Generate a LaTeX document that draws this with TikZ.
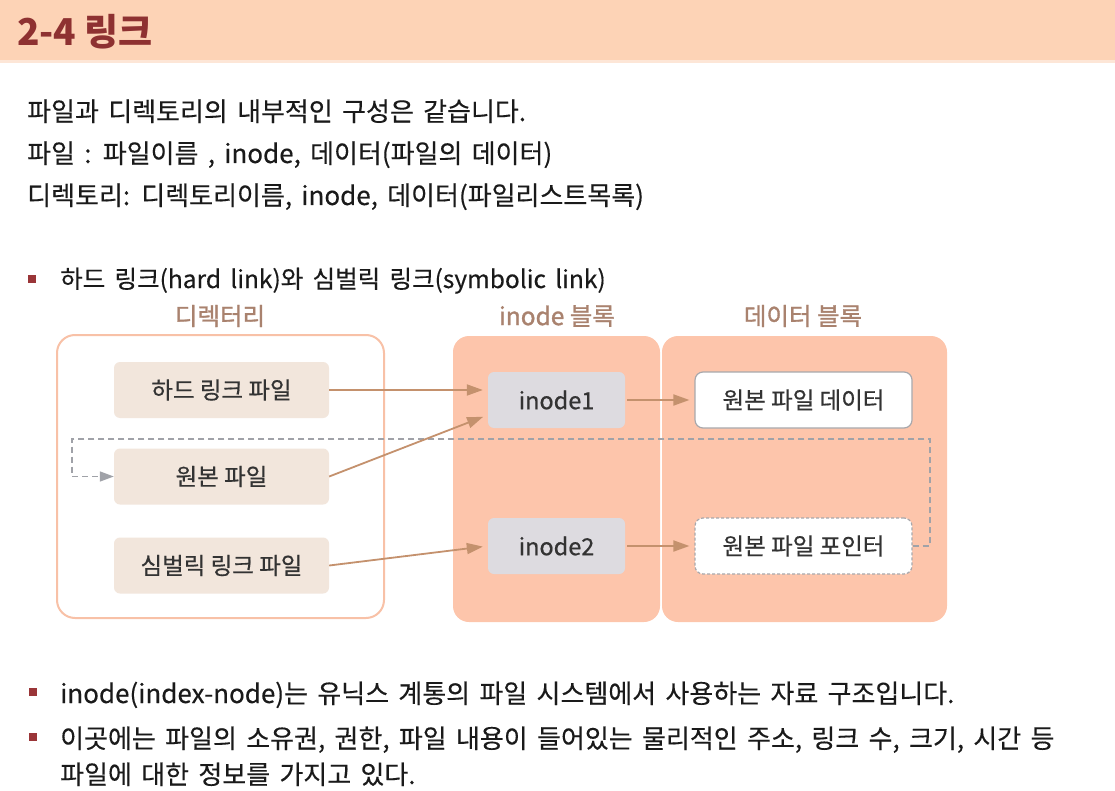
\documentclass[tikz,border=0pt]{standalone}
\usepackage{fontspec}
\setmainfont{Noto Sans CJK KR}
\usetikzlibrary{positioning,arrows.meta}
\definecolor{titlebg}{HTML}{FDD3B6}
\definecolor{titleline}{HTML}{FDE6D7}
\definecolor{titlered}{HTML}{8E3131}
\definecolor{bulletred}{HTML}{9A3538}
\definecolor{bodyblack}{HTML}{1A1A1A}
\definecolor{headbrown}{HTML}{A9826E}
\definecolor{dirline}{HTML}{F8C1A7}
\definecolor{blockfill}{HTML}{FDC5AB}
\definecolor{filebeige}{HTML}{F2E6DC}
\definecolor{inodegray}{HTML}{DDDBE0}
\definecolor{boxgray}{HTML}{A8A8AC}
\definecolor{boxtext}{HTML}{333333}
\definecolor{arrowbrown}{HTML}{C4916D}
\definecolor{dashgray}{HTML}{A0A2A8}
\newcommand{\bodyfont}[1]{\fontsize{#1}{#1}\selectfont\addfontfeature{FakeBold=0.3}\spaceskip=9.3pt plus 1pt}
\newcommand{\boxfont}{\fontsize{23.5}{26}\selectfont\addfontfeature{FakeBold=0.6}}

\begin{document}
\begin{tikzpicture}[
    x=1pt,
    y=-1pt,
    bodytext/.style={anchor=base west,inner sep=0pt,text=bodyblack,font=\bodyfont{26}},
    bulletsq/.style={fill=bulletred,minimum size=8pt,inner sep=0pt},
    heading/.style={text=headbrown,font=\fontsize{24.5}{28}\selectfont\addfontfeature{FakeBold=1.2}},
    dirframe/.style={draw=dirline,line width=2pt,fill=white,rounded corners=18pt,minimum width=327pt,minimum height=283pt},
    block/.style={fill=blockfill,rounded corners=16pt,minimum height=286pt},
    filebox/.style={fill=filebeige,rounded corners=6pt,minimum width=215pt,minimum height=56pt,text=boxtext,font=\boxfont},
    inodebox/.style={fill=inodegray,rounded corners=6pt,minimum width=137pt,minimum height=56pt,text=boxtext,font=\boxfont},
    databox/.style={fill=white,draw=boxgray,line width=1.2pt,rounded corners=8pt,minimum width=217pt,minimum height=56pt,text=boxtext,font=\boxfont},
    link/.style={draw=arrowbrown,line width=1.8pt,-{Triangle[length=16pt,width=11pt]}},
    softlink/.style={draw=dashgray,line width=1.6pt,dash pattern=on 6pt off 4pt,-{Triangle[length=14pt,width=10pt]}}
    ]
    \useasboundingbox (0,0) rectangle (1115,791);

    % title bar
    \fill[titlebg] (0,0) rectangle (1115,60);
    \fill[titleline] (0,60) rectangle (1115,63);
    \node[anchor=west,inner sep=0pt,text=titlered,font=\fontsize{37}{40}\selectfont\bfseries] (title) at (17,32) {2-4 링크};

    % intro lines
    \node[bodytext] (line1) at (27,121) {파일과 디렉토리의 내부적인 구성은 같습니다.};
    \node[bodytext] (line2) at (27,163) {파일 : 파일이름 , inode, 데이터(파일의 데이터)};
    \node[bodytext] (line3) at (27,205) {디렉토리: 디렉토리이름, inode, 데이터(파일리스트목록)};

    \node[bulletsq] (b1) at (32,279) {};
    \node[bodytext,font=\bodyfont{24.5}] (item1) at (60,288) {하드 링크(hard link)와 심벌릭 링크(symbolic link)};

    % diagram
    \node[dirframe] (dir) at (220.5,476.5) {};
    \node[block,minimum width=207pt] (iblock) at (556.5,479) {};
    \node[block,minimum width=285pt] (dblock) at (804.5,479) {};

    \node[heading] (dirhead) at (220,316) {디렉터리};
    \node[heading] (ihead) at (557,316) {inode 블록};
    \node[heading] (dhead) at (803,316) {데이터 블록};

    \node[filebox] (hard) at (221.5,390) {하드 링크 파일};
    \node[filebox] (orig) at (221.5,476.5) {원본 파일};
    \node[filebox] (sym) at (221.5,565.5) {심벌릭 링크 파일};

    \node[inodebox] (inode1) at (556.5,400) {inode1};
    \node[inodebox] (inode2) at (556.5,546) {inode2};

    \node[databox] (data) at (803.5,400) {원본 파일 데이터};
    \node[databox,dash pattern=on 3pt off 2pt] (ptr) at (803.5,546) {원본 파일 포인터};

    \coordinate (loopR) at (930,439);
    \coordinate (loopL) at (72,439);

    \draw[softlink] (ptr.east) -| (loopR) -- (loopL) |- (orig.west);
    \draw[link,shorten >=5pt] (hard.east) -- ([yshift=10pt]inode1.west);
    \draw[link,shorten >=5pt] (orig.east) -- ([yshift=-15pt]inode1.west);
    \draw[link,shorten >=5pt] (sym.east) -- (inode2.west);
    \draw[link,shorten >=5pt,shorten <=2pt] (inode1.east) -- (data.west);
    \draw[link,shorten >=5pt,shorten <=2pt] (inode2.east) -- (ptr.west);

    % notes
    \node[bulletsq] (b2) at (33,692) {};
    \node[bodytext] (item2) at (60,703) {inode(index-node)는 유닉스 계통의 파일 시스템에서 사용하는 자료 구조입니다.};
    \node[bulletsq] (b3) at (33,737) {};
    \node[bodytext] (item3) at (60,748) {이곳에는 파일의 소유권, 권한, 파일 내용이 들어있는 물리적인 주소, 링크 수, 크기, 시간 등};
    \node[bodytext] (item3b) at (60,784) {파일에 대한 정보를 가지고 있다.};
\end{tikzpicture}
\end{document}
